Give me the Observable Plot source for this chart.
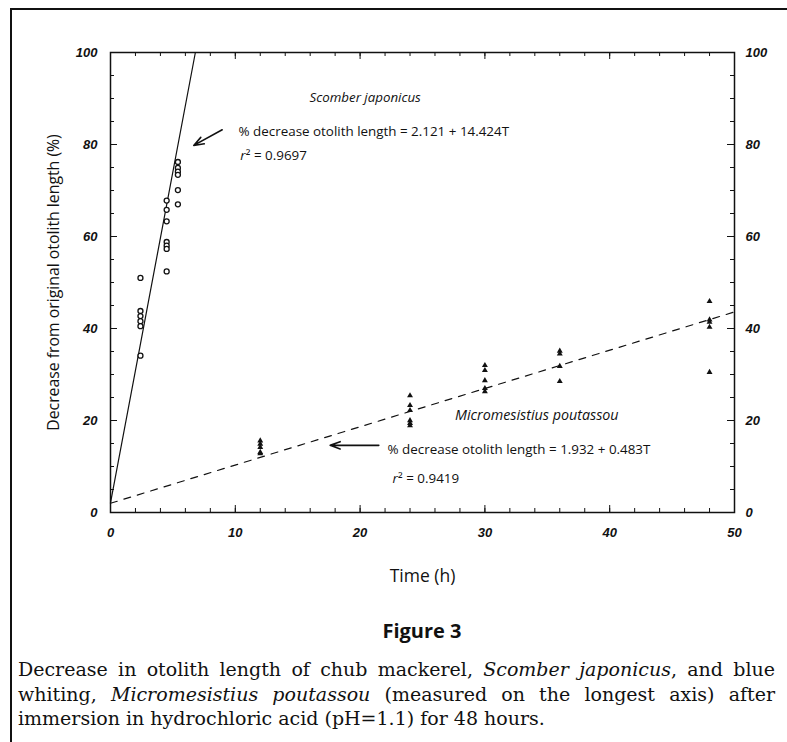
<!DOCTYPE html>
<html><head><meta charset="utf-8">
<script src="https://cdn.jsdelivr.net/npm/d3@7"></script>
<script src="https://cdn.jsdelivr.net/npm/@observablehq/plot@0.6"></script>
<style>
body{margin:0;background:#fff;}
#page{position:relative;width:787px;height:742px;overflow:hidden;background:#fff;}
#border{position:absolute;left:10px;top:8px;width:800px;height:800px;border-top:2px solid #111;border-left:2px solid #111;}
#chart{position:absolute;left:0;top:0;}
#fig{position:absolute;top:617px;left:22px;width:800px;text-align:center;font:bold 20px "Open Sans",sans-serif;line-height:28px;color:#111;}
#cap{position:absolute;top:657px;left:18px;width:757px;font:19px "DejaVu Serif",serif;line-height:24.5px;color:#111;}
#cap div{text-align:justify;text-align-last:justify;white-space:nowrap;}
#cap div.last{text-align-last:left;}
</style></head>
<body>
<div id="page">
<div id="border"></div>
<div id="chart"></div>
<div id="fig">Figure 3</div>
<div id="cap">
<div>Decrease in otolith length of chub mackerel, <i>Scomber japonicus</i>, and blue</div>
<div>whiting, <i>Micromesistius poutassou</i> (measured on the longest axis) after</div>
<div class="last">immersion in hydrochloric acid (pH=1.1) for 48 hours.</div>
</div>
</div>
<script>
// Scomber japonicus (open circles)
const scomberT   = [2.4,2.4,2.4,2.4,2.4,2.4, 4.5,4.5,4.5,4.5,4.5,4.5,4.5, 5.4,5.4,5.4,5.4,5.4,5.4];
const scomberPct = [51.0,43.8,42.7,41.6,40.5,34.1, 67.8,65.8,63.3,58.8,58.0,57.3,52.4, 76.2,74.9,74.1,73.4,70.1,67.0];
// Micromesistius poutassou (filled triangles)
const microT   = [12,12,12,12,12, 24,24,24,24,24,24, 30,30,30,30,30, 36,36,36,36, 48,48,48,48,48];
const microPct = [15.6,14.9,14.2,13.1,12.8, 25.4,23.3,22.2,20.0,19.4,18.9, 32.0,30.9,28.7,27.0,26.3, 35.1,34.5,31.8,28.5, 45.9,41.9,41.4,40.3,30.5];
// fitted lines as drawn
const scomberLineT = [0, 6.8];
const scomberLineV = [2.1, 100];
const microLineT = [0, 50];
const microLineV = [2.0, 43.6];
// ticks
const xMajor = [0,10,20,30,40,50];
const xMinor = d3.range(0, 51, 2);
const yMajor = [0,20,40,60,80,100];
const yMinor = d3.range(0, 101, 5);
// texts
const yLabel = "Decrease from original otolith length (%)";
const xLabel = "Time (h)";
const scomberName = "Scomber japonicus";
const microName = "Micromesistius poutassou";
const scomberEq = "% decrease otolith length = 2.121 + 14.424T";
const microEq = "% decrease otolith length = 1.932 + 0.483T";
const scomberR2 = "² = 0.9697";
const microR2 = "² = 0.9419";

const scomber = scomberT.map((t,i)=>({t, v: scomberPct[i]}));
const micro = microT.map((t,i)=>({t, v: microPct[i]}));
const sLine = scomberLineT.map((t,i)=>({t, v: scomberLineV[i]}));
const mLine = microLineT.map((t,i)=>({t, v: microLineV[i]}));

const lab = {fontFamily:"Liberation Sans", fontWeight:"bold", fontStyle:"italic", fontSize:13, label:null, tickSize:0};
const ink = "#111";
const FH = 460, FW = 624; // frame height / width in px (from margins)
const fs = 13.4;

const chart = Plot.plot({
  width:787, height:600,
  marginLeft:110, marginRight:53, marginTop:52, marginBottom:88,
  style:{fontFamily:"Open Sans", color:ink, background:"transparent", overflow:"visible"},
  x:{domain:[0,50]},
  y:{domain:[0,100]},
  marks:[
    Plot.tickX(xMinor, {x:d=>d, insetTop:FH-4, stroke:ink}),
    Plot.tickX(xMajor, {x:d=>d, insetTop:FH-7, stroke:ink}),
    Plot.tickX(xMinor, {x:d=>d, insetBottom:FH-4, stroke:ink}),
    Plot.tickX(xMajor, {x:d=>d, insetBottom:FH-7, stroke:ink}),
    Plot.tickY(yMinor, {y:d=>d, insetRight:FW-4, stroke:ink}),
    Plot.tickY(yMajor, {y:d=>d, insetRight:FW-7, stroke:ink}),
    Plot.tickY(yMinor, {y:d=>d, insetLeft:FW-4, stroke:ink}),
    Plot.tickY(yMajor, {y:d=>d, insetLeft:FW-7, stroke:ink}),
    Plot.axisX(xMajor, {anchor:"bottom", tickPadding:15, ...lab}),
    Plot.axisY(yMajor, {anchor:"left", tickPadding:13, ...lab}),
    Plot.axisY(yMajor, {anchor:"right", tickPadding:11, ...lab}),
    Plot.frame({stroke:ink, strokeWidth:1.5}),
    Plot.line(sLine, {x:"t", y:"v", stroke:ink, strokeWidth:1.2}),
    Plot.line(mLine, {x:"t", y:"v", stroke:ink, strokeWidth:1.2, strokeDasharray:"7,7"}),
    Plot.dot(scomber, {x:"t", y:"v", r:2.5, stroke:ink, fill:"white", strokeWidth:1.3}),
    Plot.dot(micro, {x:"t", y:"v", symbol:"triangle", r:2.2, fill:ink, stroke:"none"}),
    Plot.arrow([0], {x1:8.95, y1:83.2, x2:6.67, y2:79.8, stroke:ink, strokeWidth:1.6, headLength:10, headAngle:40}),
    Plot.arrow([0], {x1:21.5, y1:14.6, x2:17.6, y2:14.6, stroke:ink, strokeWidth:1.6, headLength:10, headAngle:40}),
    Plot.text([scomberName], {x:15.95, y:90.2, text:d=>d, textAnchor:"start", fontStyle:"italic", fontSize:13.3, fill:ink}),
    Plot.text([scomberEq], {x:10.26, y:82.8, text:d=>d, textAnchor:"start", fontSize:fs, fill:ink}),
    Plot.text(["r"], {x:10.4, y:77.6, text:d=>d, textAnchor:"start", fontStyle:"italic", fontSize:fs, fill:ink}),
    Plot.text([scomberR2], {x:10.4, y:77.6, dx:5.5, text:d=>d, textAnchor:"start", fontSize:fs, fill:ink}),
    Plot.text([microName], {x:27.6, y:21.1, text:d=>d, textAnchor:"start", fontStyle:"italic", fontSize:14.3, fill:ink}),
    Plot.text([microEq], {x:22.2, y:13.7, text:d=>d, textAnchor:"start", fontSize:fs, fill:ink}),
    Plot.text(["r"], {x:22.6, y:7.4, text:d=>d, textAnchor:"start", fontStyle:"italic", fontSize:fs, fill:ink}),
    Plot.text([microR2], {x:22.6, y:7.4, dx:5.5, text:d=>d, textAnchor:"start", fontSize:fs, fill:ink}),
    Plot.text([yLabel], {frameAnchor:"left", dx:-57, rotate:-90, textAnchor:"middle", text:d=>d, fontSize:15.8, fill:ink}),
    Plot.text([xLabel], {frameAnchor:"bottom", dy:69, text:d=>d, fontSize:17.5, fill:ink})
  ]
});
document.getElementById("chart").appendChild(chart);
</script>
</body></html>
